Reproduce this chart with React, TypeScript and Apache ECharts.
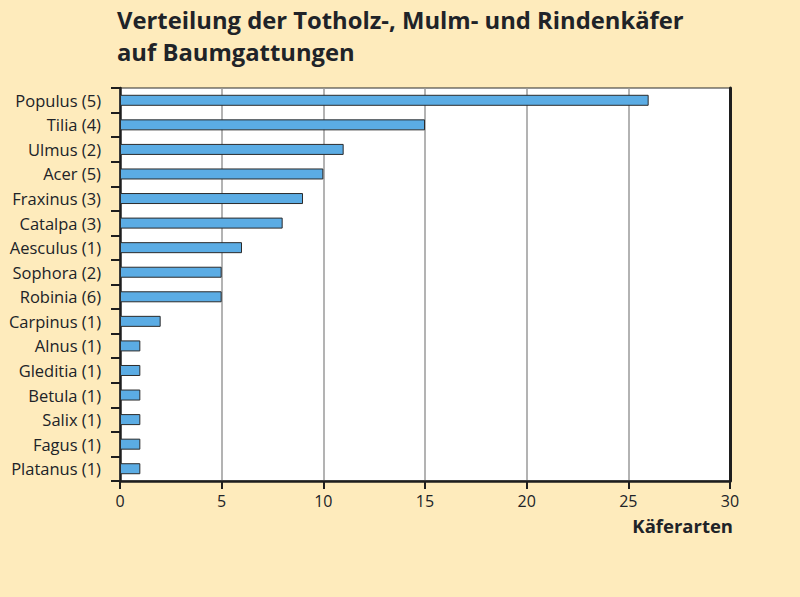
import React, { useEffect, useRef } from "react";
import * as echarts from "echarts";

const categories = [
  "Populus (5)", "Tilia (4)", "Ulmus (2)", "Acer (5)", "Fraxinus (3)", "Catalpa (3)",
  "Aesculus (1)", "Sophora (2)", "Robinia (6)", "Carpinus (1)", "Alnus (1)",
  "Gleditia (1)", "Betula (1)", "Salix (1)", "Fagus (1)", "Platanus (1)",
];
const values = [26, 15, 11, 10, 9, 8, 6, 5, 5, 2, 1, 1, 1, 1, 1, 1];
const titleLines = ["Verteilung der Totholz-, Mulm- und Rindenkäfer", "auf Baumgattungen"];
const xAxisName = "Käferarten";

const FONT = "'Open Sans', 'DejaVu Sans', sans-serif";

export default function App() {
  const ref = useRef<HTMLDivElement>(null);
  useEffect(() => {
    const chart = echarts.init(ref.current!, null, { renderer: "svg" });
    chart.setOption({
      animation: false,
      backgroundColor: "#FEEBBC",
      textStyle: { fontFamily: FONT },
      graphic: [
        {
          type: "text",
          left: 117,
          top: 4,
          style: {
            text: titleLines.join("\n"),
            font: `bold 23.8px ${FONT}`,
            lineHeight: 32,
            fill: "#202328",
          },
        },
        {
          type: "text",
          right: 67,
          top: 516,
          style: { text: xAxisName, font: `bold 18.5px ${FONT}`, fill: "#202328" },
        },
      ],
      grid: {
        left: 120,
        right: 70,
        top: 88,
        bottom: 116,
        show: true,
        backgroundColor: "#ffffff",
        borderColor: "#2a2a2a",
        borderWidth: 1,
      },
      xAxis: {
        type: "value",
        min: 0,
        max: 30,
        interval: 5,
        axisLine: { show: true, lineStyle: { color: "#1e1e1e", width: 2.5 } },
        axisTick: { show: true, length: 8, lineStyle: { color: "#1e1e1e", width: 2 } },
        axisLabel: { color: "#202328", fontSize: 16, margin: 12, fontFamily: FONT },
        splitLine: { show: true, lineStyle: { color: "#9a9a9a", width: 1.5 } },
      },
      yAxis: [
        {
          type: "category",
          data: categories,
          inverse: true,
          axisLine: { show: true, lineStyle: { color: "#1e1e1e", width: 2.5 } },
          axisTick: { show: true, length: 9, alignWithLabel: false, lineStyle: { color: "#1e1e1e", width: 2 } },
          axisLabel: { color: "#202328", fontSize: 16.5, margin: 19, fontFamily: FONT },
          splitLine: { show: false },
        },
        {
          type: "category",
          data: categories,
          inverse: true,
          position: "right",
          axisLine: { show: true, lineStyle: { color: "#1e1e1e", width: 3 } },
          axisTick: { show: false },
          axisLabel: { show: false },
          splitLine: { show: false },
        },
      ],
      series: [
        {
          type: "bar",
          data: values,
          yAxisIndex: 0,
          barWidth: 11,
          itemStyle: { color: "#5BACE4", borderColor: "#2b2b2b", borderWidth: 1 },
        },
      ],
    });
    return () => chart.dispose();
  }, []);
  return (
    <div
      ref={ref}
      style={{ position: "absolute", left: 0, top: 0, width: 800, height: 597 }}
    />
  );
}
